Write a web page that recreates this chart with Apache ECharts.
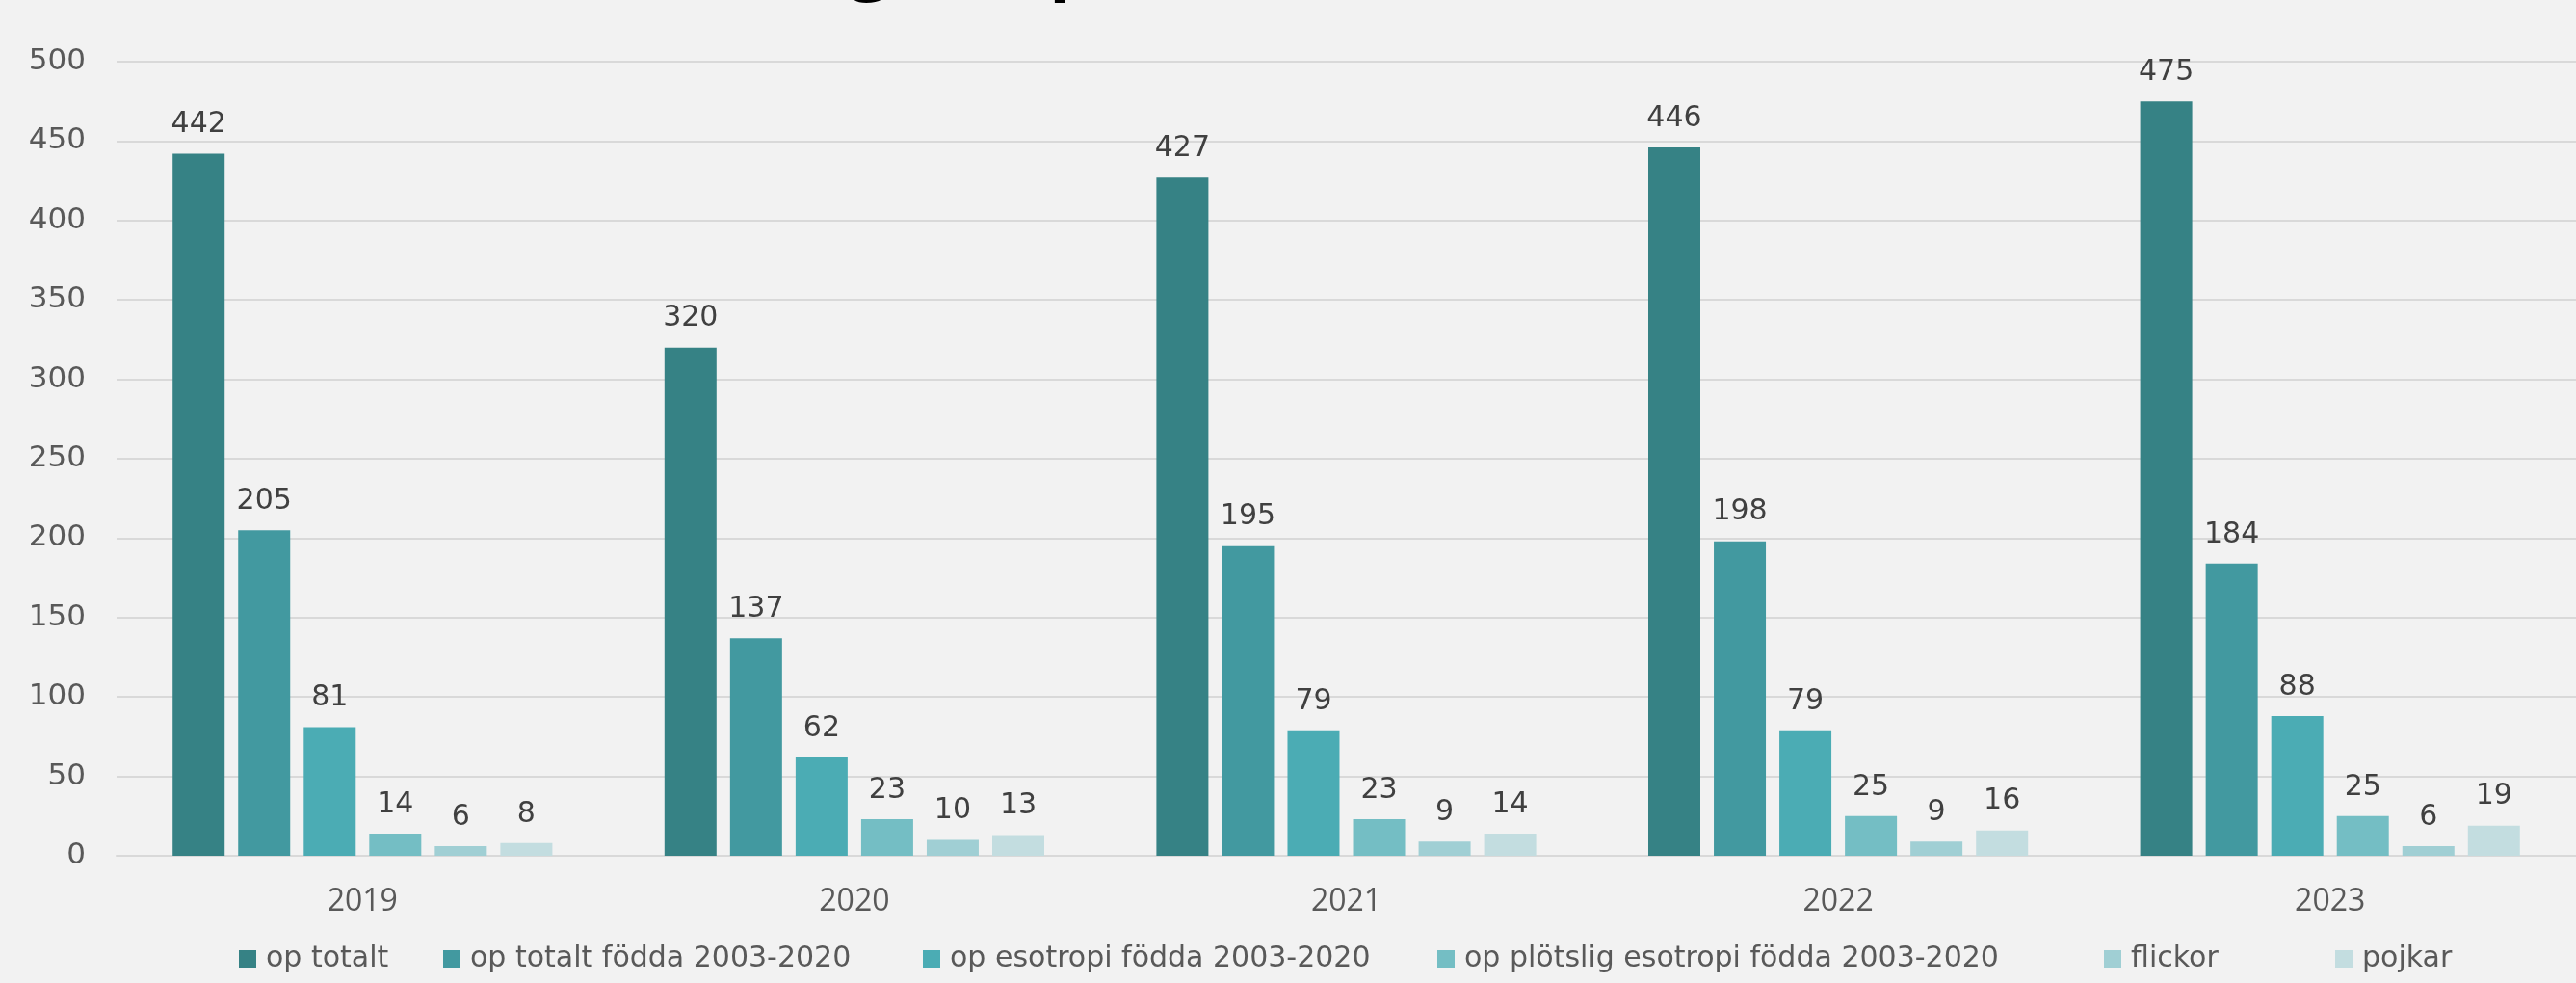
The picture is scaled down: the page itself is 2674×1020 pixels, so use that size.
<!DOCTYPE html>
<html>
<head>
<meta charset="utf-8">
<script src="https://cdn.jsdelivr.net/npm/echarts@6/dist/echarts.min.js"></script>
<style>
html,body{margin:0;padding:0;background:#F2F2F2;}
#chart{width:2674px;height:1020px;}
</style>
</head>
<body>
<div id="chart"></div>
<script>
const categories = ['2019', '2020', '2021', '2022', '2023'];
const seriesNames = [
  'op totalt',
  'op totalt födda 2003-2020',
  'op esotropi födda 2003-2020',
  'op plötslig esotropi födda 2003-2020',
  'flickor',
  'pojkar'
];
const opTotalt = [442, 320, 427, 446, 475];
const opTotaltFodda = [205, 137, 195, 198, 184];
const opEsotropi = [81, 62, 79, 79, 88];
const opPlotslig = [14, 23, 23, 25, 25];
const flickor = [6, 10, 9, 9, 6];
const pojkar = [8, 13, 14, 16, 19];
const yTicks = [0, 50, 100, 150, 200, 250, 300, 350, 400, 450, 500];
const titleText = 'Utveckling av operationer';

const seriesData = [opTotalt, opTotaltFodda, opEsotropi, opPlotslig, flickor, pojkar];
const colors = ['#368285', '#4299A0', '#4BACB4', '#74BEC4', '#A0CFD4', '#C3DDE0'];
const legendLeft = [248, 460, 958, 1492, 2184, 2424];
const FONT = 'Open Sans';
const FONT2 = 'DejaVu Sans';

const chart = echarts.init(document.getElementById('chart'), null, {renderer: 'canvas'});
chart.setOption({
  backgroundColor: '#F2F2F2',
  animation: false,
  color: colors,
  title: {
    text: titleText,
    left: 535,
    top: -76,
    textStyle: {fontFamily: FONT, fontWeight: 'bold', fontSize: 72, color: '#000000'}
  },
  grid: {left: 121, right: -7, top: 64, bottom: 132, containLabel: false},
  legend: seriesNames.map((name, i) => ({
    left: legendLeft[i],
    top: 980,
    itemWidth: 18,
    itemHeight: 18,
    icon: 'rect',
    padding: 0,
    textStyle: {fontFamily: FONT2, fontSize: 30, color: '#595959', padding: [0, 0, 0, 5]},
    data: [name]
  })),
  xAxis: {
    type: 'category',
    data: categories,
    axisLine: {show: true, lineStyle: {color: '#D9D9D9', width: 2}},
    axisTick: {show: false},
    axisLabel: {fontFamily: FONT, fontSize: 32, color: '#595959', margin: 32}
  },
  yAxis: {
    type: 'value',
    min: yTicks[0],
    max: yTicks[yTicks.length - 1],
    interval: yTicks[1] - yTicks[0],
    axisLine: {show: false},
    axisTick: {show: false},
    splitLine: {lineStyle: {color: '#D9D9D9', width: 2}},
    axisLabel: {fontFamily: FONT2, fontSize: 31, color: '#595959', margin: 32}
  },
  series: seriesNames.map((name, i) => ({
    name: name,
    type: 'bar',
    data: seriesData[i],
    barWidth: 54,
    barGap: '26%',
    itemStyle: {color: colors[i]},
    label: {
      show: true,
      position: 'top',
      distance: 15,
      fontFamily: FONT2,
      fontSize: 30,
      color: '#404040'
    }
  }))
});
</script>
</body>
</html>
